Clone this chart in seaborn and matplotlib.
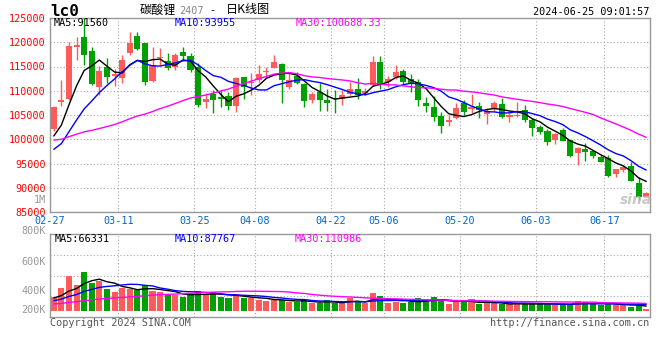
import numpy as np
import pandas as pd
import matplotlib
matplotlib.use("Agg")
import matplotlib.pyplot as plt
import seaborn as sns

# ---------------- data ----------------
dates = ["02-27", "02-28", "02-29", "03-01",
         "03-04", "03-05", "03-06", "03-07", "03-08",
         "03-11", "03-12", "03-13", "03-14", "03-15",
         "03-18", "03-19", "03-20", "03-21", "03-22",
         "03-25", "03-26", "03-27", "03-28", "03-29",
         "04-01", "04-02", "04-03",
         "04-08", "04-09", "04-10", "04-11", "04-12",
         "04-15", "04-16", "04-17", "04-18", "04-19",
         "04-22", "04-23", "04-24", "04-25", "04-26",
         "04-29", "04-30",
         "05-06", "05-07", "05-08", "05-09", "05-10",
         "05-13", "05-14", "05-15", "05-16", "05-17",
         "05-20", "05-21", "05-22", "05-23", "05-24",
         "05-27", "05-28", "05-29", "05-30", "05-31",
         "06-03", "06-04", "06-05", "06-06", "06-07",
         "06-11", "06-12", "06-13", "06-14",
         "06-17", "06-18", "06-19", "06-20", "06-21",
         "06-24"]
tick_dates = ["02-27", "03-11", "03-25", "04-08", "04-22", "05-06", "05-20", "06-03", "06-17"]

opens = [102110, 107680, 108240, 119100, 121160, 118210, 110720, 114970, 113050, 112570,
         117860, 121310, 119800, 112080, 116700, 116150, 114970, 118060, 117180, 114970,
         107680, 109270, 108660, 108920, 106920, 112910, 111540, 112220, 113940, 114760,
         115530, 110840, 113050, 111400, 108100, 109810, 108100, 108550, 108240, 109330,
         110300, 109600, 111190, 116000, 111810, 112780, 114080, 112370, 111810, 107540,
         106590, 104790, 103620, 104320, 107410, 106180, 106860, 105210, 106180, 107210,
         104650, 104790, 106030, 103970, 102590, 101700, 99840, 101900, 99840, 97220,
         97980, 97570, 96390, 96190, 92820, 93650, 94470, 91030, 88140]
highs = [106900, 112220, 120000, 121160, 125000, 119100, 115180, 116700, 114490, 117380,
         122070, 122190, 119800, 119100, 118890, 117730, 117860, 119100, 117730, 115670,
         109600, 110160, 110160, 109810, 112910, 112910, 113610, 115320, 114970, 117380,
         115800, 113610, 113810, 111670, 109810, 111540, 110300, 110160, 110160, 111870,
         112570, 110510, 117180, 117180, 113050, 115320, 114490, 113460, 112370, 108780,
         108920, 105680, 105000, 107410, 108100, 109330, 107750, 106380, 107950, 108450,
         105350, 107750, 107060, 104320, 102940, 102110, 101280, 102250, 99840, 98460,
         99160, 97780, 96740, 96740, 93850, 94680, 95240, 92270, 89040]
lows = [101700, 106860, 108000, 116350, 115320, 111190, 109130, 111540, 110990, 111540,
        117380, 118420, 111190, 111870, 115320, 114290, 114290, 116350, 113940, 106710,
        106380, 105470, 106710, 106030, 105680, 108240, 109130, 111870, 112700, 114640,
        107540, 110300, 111340, 106710, 107540, 105890, 105890, 105350, 107060, 109130,
        108240, 109130, 110990, 110300, 110840, 112370, 111190, 109810, 106860, 105680,
        103820, 101350, 102730, 104110, 105000, 105350, 104320, 103140, 105890, 104320,
        103620, 104650, 103620, 100730, 101020, 98810, 99010, 99630, 96390, 94680,
        95510, 96060, 95240, 92270, 92270, 93170, 91380, 87460, 88140]
closes = [106710, 108100, 119300, 119450, 117380, 111400, 114140, 112910, 113460, 116350,
          119920, 118560, 111870, 115320, 116970, 114760, 117380, 117240, 114290, 107060,
          108240, 108100, 108370, 106920, 112700, 110720, 111870, 113460, 114080, 116000,
          112220, 112220, 111670, 107950, 109330, 108100, 107540, 108400, 109130, 110300,
          109130, 110010, 116000, 111190, 112430, 113870, 111870, 111540, 108100, 106860,
          104650, 102730, 103970, 106380, 105680, 106590, 106030, 105890, 107540, 104650,
          105000, 105100, 103970, 102380, 101550, 99490, 101020, 99630, 96600, 98250,
          97420, 96600, 95240, 92470, 93850, 94330, 91380, 88140, 88840]
volumes = [201000, 317000, 490000, 364000, 551000, 397000, 425000, 308000, 271000, 317000,
           303000, 294000, 364000, 285000, 261000, 224000, 224000, 201000, 224000, 280000,
           233000, 247000, 201000, 177000, 238000, 177000, 177000, 154000, 140000, 154000,
           154000, 131000, 121000, 154000, 107000, 107000, 154000, 107000, 107000, 177000,
           140000, 107000, 247000, 205000, 107000, 131000, 107000, 131000, 177000, 131000,
           191000, 163000, 93000, 131000, 121000, 163000, 93000, 107000, 107000, 93000,
           93000, 107000, 93000, 107000, 93000, 107000, 84000, 84000, 93000, 140000,
           121000, 93000, 84000, 107000, 84000, 84000, 60000, 84000, 28000]
# sessions before 02-27 (estimated so the moving averages start where the chart's do)
prior_closes = [103500, 102800, 104200, 103100, 101900, 102600, 101300, 100500, 99800, 100900,
                101700, 100200, 99400, 98600, 99900, 100800, 99300, 98200, 97600, 99500,
                96200, 94800, 95300, 94600, 94950, 96800, 98400, 99900, 101540]
prior_volumes = [70000, 82000, 65000, 78000, 74000, 80000, 69000, 77000, 72000, 85000,
                 73000, 68000, 79000, 76000, 71000, 83000, 74000, 70000, 78000, 76000,
                 95000, 110000, 102000, 115000, 108000, 150000, 172000, 185000, 202000]

price_ma_text = ["MA5:91560", "MA10:93955", "MA30:100688.33"]
vol_ma_text = ["MA5:66331", "MA10:87767", "MA30:110986"]
price_ticks = [85000, 90000, 95000, 100000, 105000, 110000, 115000, 120000, 125000]
vol_labels = ["800K", "600K", "400K", "200K"]

# ---------------- style ----------------
RED = "#FF5B5B"
GREEN = "#00A000"
GRID = "#A8A8A8"
FRAME = "#999999"
MONO = "DejaVu Sans Mono"
CJK = ["Noto Sans CJK SC", "DejaVu Sans"]
W, H = 660, 360

sns.set_theme(style="white")
plt.rcParams["font.family"] = ["DejaVu Sans"]

fig = plt.figure(figsize=(W / 100, H / 100), dpi=100)
fig.patch.set_facecolor("white")


def rect(l, t, r, b):
    return [l / W, 1 - b / H, (r - l) / W, (b - t) / H]


def ftext(xp, yp, s, **kw):
    kw.setdefault("va", "center")
    fig.text(xp / W, 1 - yp / H, s, **kw)


n = len(dates)
xs = np.arange(n)
o = np.array(opens, float)
c = np.array(closes, float)
hi = np.array(highs, float)
lo = np.array(lows, float)
v = np.array(volumes, float)
up = c >= o
cols = np.where(up, RED, GREEN)

full_c = pd.Series(prior_closes + closes, dtype=float)
full_v = pd.Series(prior_volumes + volumes, dtype=float)
k = len(prior_closes)
ma = {w: full_c.rolling(w).mean().iloc[k:].to_numpy() for w in (5, 10, 30)}
vma = {w: full_v.rolling(w).mean().iloc[k:].to_numpy() for w in (5, 10, 30)}

tick_pos = [dates.index(d) - 0.5 for d in tick_dates]

# ---------------- price panel ----------------
ax = fig.add_axes(rect(50, 18, 650, 212))
ax.set_facecolor("white")
ax.set_xlim(-0.5, n - 0.5)
ax.set_ylim(85000, 125000)
ax.set_yticks(price_ticks)
ax.set_yticklabels([str(t) for t in price_ticks], color="#FF0000", fontsize=7.3, family=MONO)
ax.set_xticks(tick_pos)
ax.set_xticklabels(tick_dates, color="#0066CC", fontsize=7.3, family=MONO)
ax.tick_params(length=0, pad=3)
ax.grid(True, color=GRID, linestyle=(0, (1, 2)), linewidth=0.8)
for s in ax.spines.values():
    s.set_color(FRAME)
    s.set_linewidth(1.0)

ax.vlines(xs, lo, hi, colors=cols, linewidth=1.0, zorder=3)
body_h = np.maximum(np.abs(c - o), 180)
ax.bar(xs, body_h, bottom=np.minimum(o, c), width=0.8, color=cols, linewidth=0, zorder=3)

for w, colr in ((5, "black"), (10, "#0000FF"), (30, "#FF00FF")):
    sns.lineplot(x=xs, y=ma[w], ax=ax, color=colr, linewidth=1.0, legend=False, zorder=4)
ax.set_xlabel("")
ax.set_ylabel("")

# ---------------- volume panel ----------------
axv = fig.add_axes(rect(50, 234, 650, 317))
axv.set_facecolor("white")
axv.set_xlim(-0.5, n - 0.5)
vscale = 14000  # volume per pixel
axv.set_ylim(-6 * vscale, 77 * vscale)
axv.set_yticks([(311 - yp) * vscale for yp in (255, 275.5, 296)])
axv.set_yticklabels([])
axv.set_xticks(tick_pos)
axv.set_xticklabels([])
axv.tick_params(length=0)
axv.grid(True, color=GRID, linestyle=(0, (1, 2)), linewidth=0.8)
for s in axv.spines.values():
    s.set_color(FRAME)
    s.set_linewidth(1.0)
axv.bar(xs, v, width=0.8, color=cols, linewidth=0, zorder=3)
for w, colr in ((5, "black"), (10, "#0000FF"), (30, "#FF00FF")):
    sns.lineplot(x=xs, y=vma[w], ax=axv, color=colr, linewidth=1.0, legend=False, zorder=4)
axv.set_xlabel("")
axv.set_ylabel("")

# ---------------- texts ----------------
ftext(50, 11, "lc0", fontsize=11.5, fontweight="bold", family=MONO, color="black", ha="left")
ftext(140, 10, "碳酸锂", fontsize=8.7, family=CJK, color="black", ha="left")
ftext(179, 10.5, "2407", fontsize=7.3, family=MONO, color="#888888", ha="left")
ftext(209, 10.5, "-", fontsize=7.5, family=MONO, color="black", ha="left")
ftext(226, 10, "日K线图", fontsize=8.7, family=CJK, color="black", ha="left")
ftext(649, 12, "2024-06-25 09:01:57", fontsize=7.3, family=MONO, color="black", ha="right")

for (xp, txt, colr) in zip((54, 175, 296), price_ma_text, ("black", "#0000FF", "#FF00FF")):
    ftext(xp, 23.5, txt, fontsize=7.3, family=MONO, color=colr, ha="left")
for (xp, txt, colr) in zip((55, 175, 295), vol_ma_text, ("black", "#0000FF", "#FF00FF")):
    ftext(xp, 238.5, txt, fontsize=7.3, family=MONO, color=colr, ha="left")

ftext(46, 200, "1M", fontsize=7.3, family=MONO, color="#999999", ha="right")
for yp, txt in zip((231, 262, 291, 310), vol_labels):
    ftext(46, yp, txt, fontsize=7.3, family=MONO, color="#999999", ha="right")

ftext(50, 323.5, "Copyright 2024 SINA.COM", fontsize=7.3, family=MONO, color="#555555", ha="left")
ftext(649, 322.5, "http://finance.sina.com.cn", fontsize=7.3, family=MONO, color="#555555", ha="right")
ftext(636, 200, "sina", fontsize=10, fontweight="bold", style="italic", color="#BBBBBB",
      ha="center", alpha=0.8)

fig.savefig("out.png", dpi=100, facecolor="white")
